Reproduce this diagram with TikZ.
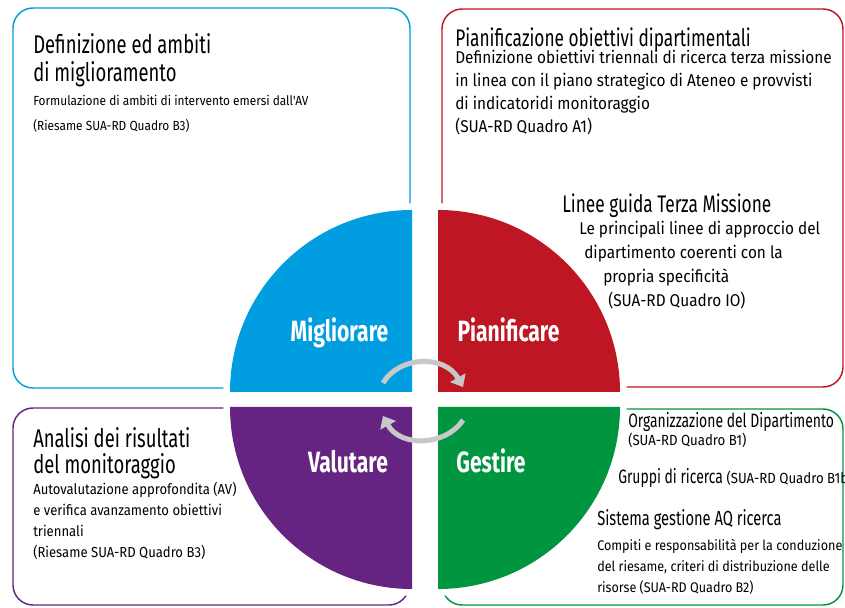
\documentclass[tikz,border=0pt]{standalone}
\usepackage{fontspec}
\setmainfont{Fira Sans}[FakeStretch=0.72]
\newfontfamily\corpo{Fira Sans}[FakeStretch=0.9]
\usetikzlibrary{arrows.meta}
\definecolor{blu}{RGB}{0,158,224}
\definecolor{rosso}{RGB}{190,22,34}
\definecolor{verde}{RGB}{0,150,64}
\definecolor{viola}{RGB}{102,36,130}
\definecolor{grigio}{RGB}{200,200,200}

\begin{document}
\begin{tikzpicture}[x=0.75pt,y=0.75pt,
  box/.style={rounded corners=15pt, line width=1.1pt},
  fase/.style={anchor=base, text=white, font=\bfseries\fontsize{22}{22}\selectfont},
  blocco/.style={anchor=base west, inner sep=0pt, align=left},
  giro/.style={grigio, line width=3.8pt, -{Triangle[length=8pt,width=13pt]}}]
\useasboundingbox (0,0) rectangle (845,607);
\clip (0,0) rectangle (845,607);

\draw[box, blu]   (13,219) rectangle (410,599);
\draw[box, rosso] (442,220) rectangle (843,598);
\draw[box, viola] (13,2) rectangle (409,199);
\draw[box, verde] (442,2) rectangle (843,198);

\foreach \cx/\cy/\a/\c in {412/215/90/blu, 438/215/0/rosso, 412/200/180/viola, 438/200/270/verde}{
  \draw[white, line width=10pt] (\cx,\cy) ++(\a:182) arc[start angle=\a, end angle=\a+90, radius=182];
  \fill[\c] (\cx,\cy) -- ++(\a:182) arc[start angle=\a, end angle=\a+90, radius=182] -- cycle;
}

\node[fase] (migl) at (339.5,265) {Migliorare};
\node[fase] (pian) at (508.5,265) {Pianificare};
\node[fase] (valu) at (348,135) {Valutare};
\node[fase] (gest) at (491,135) {Gestire};

\node[blocco, font=\fontsize{19.2}{21}\selectfont] (defTit) at (33,525) {Definizione ed ambiti\\di miglioramento};
\node[blocco, font=\corpo\fontsize{9.9}{18.75}\selectfont] (defTxt) at (33,476) {Formulazione di ambiti di intervento emersi dall'AV\\(Riesame SUA-RD Quadro B3)};

\node[blocco, font=\fontsize{18}{18}\selectfont] (pianTit) at (455,560) {Pianificazione obiettivi dipartimentali};
\node[blocco, font=\corpo\fontsize{12.8}{17.25}\selectfont] (pianTxt) at (455,474) {Definizione obiettivi triennali di ricerca terza missione\\in linea con il piano strategico di Ateneo e provvisti\\di indicatoridi monitoraggio\\(SUA-RD Quadro A1)};

\node[blocco, font=\fontsize{18}{18}\selectfont] (lineeTit) at (562,394) {Linee guida Terza Missione};
\node[blocco, font=\corpo\fontsize{12.8}{18}\selectfont] (lineeTxt) at (579,300) {Le principali linee di approccio del\\\hspace*{3.75pt}dipartimento coerenti con la\\\hspace*{18pt}propria specificità\\\hspace*{21.75pt}(SUA-RD Quadro IO)};

\node[blocco, font=\fontsize{14.5}{14.5}\selectfont] (orgTit) at (628,180) {Organizzazione del Dipartimento};
\node[blocco, font=\corpo\fontsize{11}{14}\selectfont] (orgTxt) at (628,162) {(SUA-RD Quadro B1)};
\node[blocco, font=\fontsize{14.5}{14.5}\selectfont] (grupTit) at (618,124) {Gruppi di ricerca {\corpo\fontsize{11}{14}\selectfont(SUA-RD Quadro B1b)}};
\node[blocco, font=\fontsize{15.3}{18}\selectfont] (sistTit) at (597,82) {Sistema gestione AQ ricerca};
\node[blocco, font=\corpo\fontsize{10.5}{15.75}\selectfont] (sistTxt) at (597,15) {Compiti e responsabilità per la conduzione\\del riesame, criteri di distribuzione delle\\risorse (SUA-RD Quadro B2)};

\node[blocco, font=\fontsize{19.2}{19.5}\selectfont] (anaTit) at (33,134) {Analisi dei risultati\\del monitoraggio};
\node[blocco, font=\corpo\fontsize{10.9}{15.75}\selectfont] (anaTxt) at (33,50) {Autovalutazione approfondita (AV)\\e verifica avanzamento obiettivi\\triennali\\(Riesame SUA-RD Quadro B3)};

\coordinate (g1a) at (383,224);
\coordinate (g1b) at (463,220);
\coordinate (g2a) at (463,187);
\coordinate (g2b) at (383,191);
\draw[giro] (g1a) .. controls (400,252) and (445,252) .. (g1b);
\draw[giro] (g2a) .. controls (445,160) and (400,160) .. (g2b);
\end{tikzpicture}
\end{document}
